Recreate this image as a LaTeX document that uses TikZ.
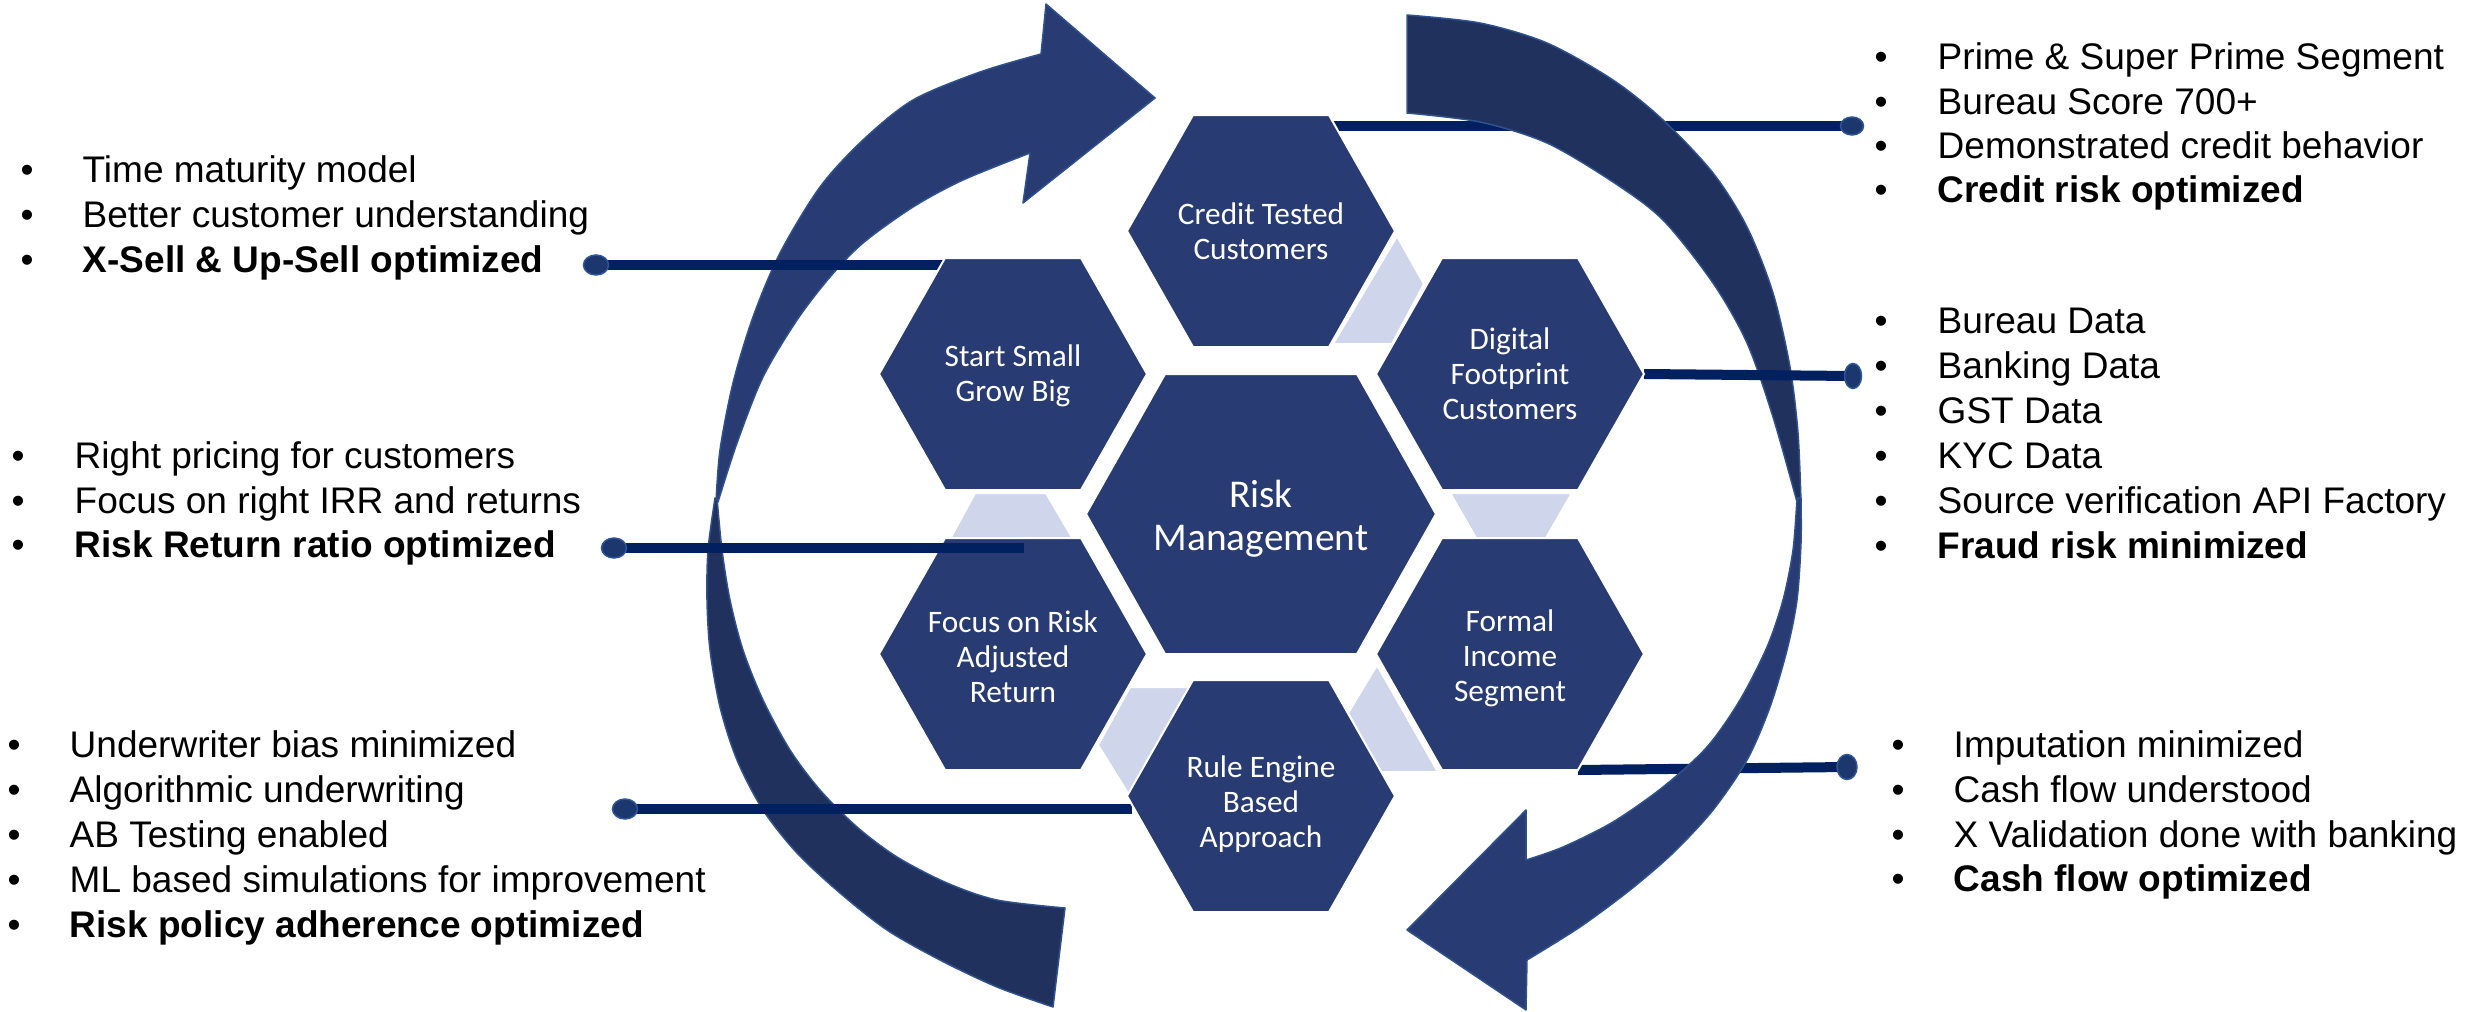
\documentclass[tikz,border=0pt]{standalone}
\usepackage{fontspec}
\setmainfont{Liberation Sans}
\newfontfamily\hexfont{Carlito}
\usetikzlibrary{shapes.geometric}
\definecolor{hexblue}{RGB}{40,59,114}
\definecolor{arrdark}{RGB}{33,49,94}
\definecolor{arredge}{RGB}{47,82,143}
\definecolor{linkfill}{RGB}{207,213,234}
\definecolor{connblue}{RGB}{0,32,96}
\definecolor{dotfill}{RGB}{28,55,110}
\definecolor{dotedge}{RGB}{47,85,151}
\tikzset{
 hexstyle/.style={fill=hexblue, draw=white, line width=0.02cm},
 linkstyle/.style={fill=linkfill, draw=white, line width=0.02cm},
 arrlightstyle/.style={fill=hexblue, draw=arredge, line width=0.015cm, line join=round},
 arrdarkstyle/.style={fill=arrdark, draw=arredge, line width=0.015cm, line join=round},
 conn/.style={draw=connblue, line width=0.1cm},
 dotstyle/.style={ellipse, fill=dotfill, draw=dotedge, line width=0.015cm, inner sep=0pt},
 hextext/.style={text=white, font=\hexfont\fontsize{8.9pt}{9.96pt}\selectfont, align=center, inner sep=0pt},
 bigtext/.style={text=white, font=\hexfont\fontsize{11.2pt}{12.2pt}\selectfont, align=center, inner sep=0pt},
 btxt/.style={anchor=base west, inner sep=0pt, font=\fontsize{10.53pt}{12.6pt}\selectfont},
 bdot/.style={anchor=base, inner sep=0pt, font=\fontsize{10.53pt}{12.6pt}\selectfont},
}
\newcommand{\mkhex}[6]{%
 \coordinate (#1-c) at (#2,#3);
 \coordinate (#1-w) at ({#2-#4},#3);
 \coordinate (#1-e) at ({#2+#4},#3);
 \coordinate (#1-nw) at ({#2-#6},{#3-#5});
 \coordinate (#1-ne) at ({#2+#6},{#3-#5});
 \coordinate (#1-sw) at ({#2-#6},{#3+#5});
 \coordinate (#1-se) at ({#2+#6},{#3+#5});}
\newcommand{\paintHex}[1]{\filldraw[hexstyle] (#1-w) -- (#1-nw) -- (#1-ne) -- (#1-e) -- (#1-se) -- (#1-sw) -- cycle;}
\newcommand{\bitem}[5]{\node[bdot] (#1d) at (#2,#4) {\textbullet}; \node[btxt] (#1) at (#3,#4) {#5};}
\begin{document}
\begin{tikzpicture}[x=0.01cm, y=-0.01cm]
\useasboundingbox (0,0) rectangle (2481,1012);
% hexagon geometry
\mkhex{CT}{1261}{231}{134}{116}{68}
\mkhex{SS}{1013}{374}{134}{116}{68}
\mkhex{DF}{1510}{374}{134}{116}{68}
\mkhex{RM}{1261}{514}{175}{140}{96}
\mkhex{FR}{1013}{654}{134}{116}{68}
\mkhex{FI}{1510}{654}{134}{116}{68}
\mkhex{RE}{1261}{796}{134}{116}{68}
% free ends of the connectors
\coordinate (oL1) at (596,265);
\coordinate (oL2) at (614,548);
\coordinate (oL3) at (625,809);
\coordinate (oR1) at (1852,126);
\coordinate (oR2) at (1853,376);
\coordinate (oR3) at (1847,767);
\coordinate (L2end) at (1024,548);
% connectors behind the right arrow
\draw[conn] (oR1 -| CT-ne) -- (oR1);
\draw[conn] (FI-se) -- (oR3);
% right arrow
\filldraw[arrdarkstyle] plot[smooth] coordinates {(1407,15) (1480,23) (1547,43) (1613,80) (1663,120) (1713,173) (1747,227) (1773,293) (1790,367) (1798,433) (1801,502)} -- plot[smooth] coordinates {(1797,502) (1773,417) (1747,343) (1713,283) (1663,220) (1613,182) (1547,143) (1480,122) (1407,113)} -- cycle;
\filldraw[arrlightstyle] plot[smooth] coordinates {(1801,498) (1801,543) (1797,600) (1787,650) (1770,707) (1747,760) (1713,810) (1673,853) (1630,890) (1580,927) (1527,960)} -- (1526,1010) -- (1407,930) -- (1526,810) -- (1526,860) -- plot[smooth] coordinates {(1526,860) (1563,847) (1613,822) (1663,787) (1707,747) (1740,700) (1767,647) (1783,600) (1793,550) (1797,498)} -- cycle;
% left arrow
\filldraw[arrlightstyle] plot[smooth] coordinates {(716,502) (720,450) (733,383) (753,317) (780,253) (820,187) (863,140) (913,100) (980,72) (1041,54)} -- (1046,4) -- (1155,98) -- (1023,203) -- (1030,153) -- plot[smooth] coordinates {(1030,153) (963,180) (913,207) (863,243) (830,277) (797,320) (763,377) (737,443) (718,502)} -- cycle;
\filldraw[arrdarkstyle] plot[smooth] coordinates {(715,498) (708,550) (707,600) (710,650) (720,707) (737,760) (763,810) (797,853) (840,893) (887,930) (940,960) (997,987) (1053,1007)} -- (1065,908) -- plot[smooth] coordinates {(1065,908) (997,900) (947,883) (897,857) (857,827) (820,790) (790,750) (763,700) (743,650) (730,600) (722,550) (717,498)} -- cycle;
% connectors over the arrows, behind the hexagons
\draw[conn] (oL1) -- (oL1 -| SS-nw);
\draw[conn] (oL3) -- ([xshift=0.05cm]oL3 -| RE-w);
\draw[conn] (DF-e) -- (oR2);
% light links between hexagons
\filldraw[linkstyle] (1397,236) -- (1424,284) -- (1392,344) -- (1333,344) -- cycle;
\filldraw[linkstyle] (1450,493) -- (1572,493) -- (1546,538) -- (1476,538) -- cycle;
\filldraw[linkstyle] (975,493) -- (1046,493) -- (1073,539) -- (950,539) -- cycle;
\filldraw[linkstyle] (1130,687) -- (1192,687) -- (1129,795) -- (1098,745) -- cycle;
\filldraw[linkstyle] (1377,665) -- (1438,772) -- (1380,772) -- (1348,713) -- cycle;
% hexagons
\paintHex{CT}\paintHex{SS}\paintHex{DF}\paintHex{RM}\paintHex{FR}\paintHex{FI}\paintHex{RE}
\node[hextext] (CT) at (CT-c) {Credit Tested\\Customers};
\node[hextext] (SS) at ([yshift=-0.02cm]SS-c) {Start Small\\Grow Big};
\node[hextext] (DF) at (DF-c) {Digital\\Footprint\\Customers};
\node[bigtext] (RM) at ([yshift=-0.05cm]RM-c) {Risk\\Management};
\node[hextext] (FR) at ([yshift=-0.03cm]FR-c) {Focus on Risk\\Adjusted\\Return};
\node[hextext] (FI) at ([yshift=-0.04cm]FI-c) {Formal\\Income\\Segment};
\node[hextext] (RE) at ([yshift=-0.08cm]RE-c) {Rule Engine\\Based\\Approach};
% connector over the hexagon
\draw[conn] (oL2) -- (L2end);
% end dots
\node[dotstyle, minimum width=0.25cm, minimum height=0.2cm] (dL1) at (oL1) {};
\node[dotstyle, minimum width=0.25cm, minimum height=0.2cm] (dL2) at (oL2) {};
\node[dotstyle, minimum width=0.25cm, minimum height=0.2cm] (dL3) at (oL3) {};
\node[dotstyle, minimum width=0.23cm, minimum height=0.18cm] (dR1) at (oR1) {};
\node[dotstyle, minimum width=0.17cm, minimum height=0.25cm] (dR2) at (oR2) {};
\node[dotstyle, minimum width=0.2cm, minimum height=0.25cm] (dR3) at (oR3) {};
% left lists
\bitem{la1}{27}{82}{182}{Time maturity model}
\bitem{la2}{27}{82}{227}{Better customer understanding}
\bitem{la3}{27}{82}{272}{\bfseries X-Sell \& Up-Sell optimized}
\bitem{lb1}{18}{74}{468}{Right pricing for customers}
\bitem{lb2}{18}{74}{513}{Focus on right IRR and returns}
\bitem{lb3}{18}{74}{557}{\bfseries Risk Return ratio optimized}
\bitem{lc1}{14}{69}{757}{Underwriter bias minimized}
\bitem{lc2}{14}{69}{802}{Algorithmic underwriting}
\bitem{lc3}{14}{69}{847}{AB Testing enabled}
\bitem{lc4}{14}{69}{892}{ML based simulations for improvement}
\bitem{lc5}{14}{69}{937}{\bfseries Risk policy adherence optimized}
% right lists
\bitem{ra1}{1881}{1937}{69}{Prime \& Super Prime Segment}
\bitem{ra2}{1881}{1937}{114}{Bureau Score 700+}
\bitem{ra3}{1881}{1937}{158}{Demonstrated credit behavior}
\bitem{ra4}{1881}{1937}{202}{\bfseries Credit risk optimized}
\bitem{rb1}{1881}{1937}{333}{Bureau Data}
\bitem{rb2}{1881}{1937}{378}{Banking Data}
\bitem{rb3}{1881}{1937}{423}{GST Data}
\bitem{rb4}{1881}{1937}{468}{KYC Data}
\bitem{rb5}{1881}{1937}{513}{Source verification API Factory}
\bitem{rb6}{1881}{1937}{558}{\bfseries Fraud risk minimized}
\bitem{rc1}{1898}{1953}{757}{Imputation minimized}
\bitem{rc2}{1898}{1953}{802}{Cash flow understood}
\bitem{rc3}{1898}{1953}{847}{X Validation done with banking}
\bitem{rc4}{1898}{1953}{891}{\bfseries Cash flow optimized}
\end{tikzpicture}
\end{document}
